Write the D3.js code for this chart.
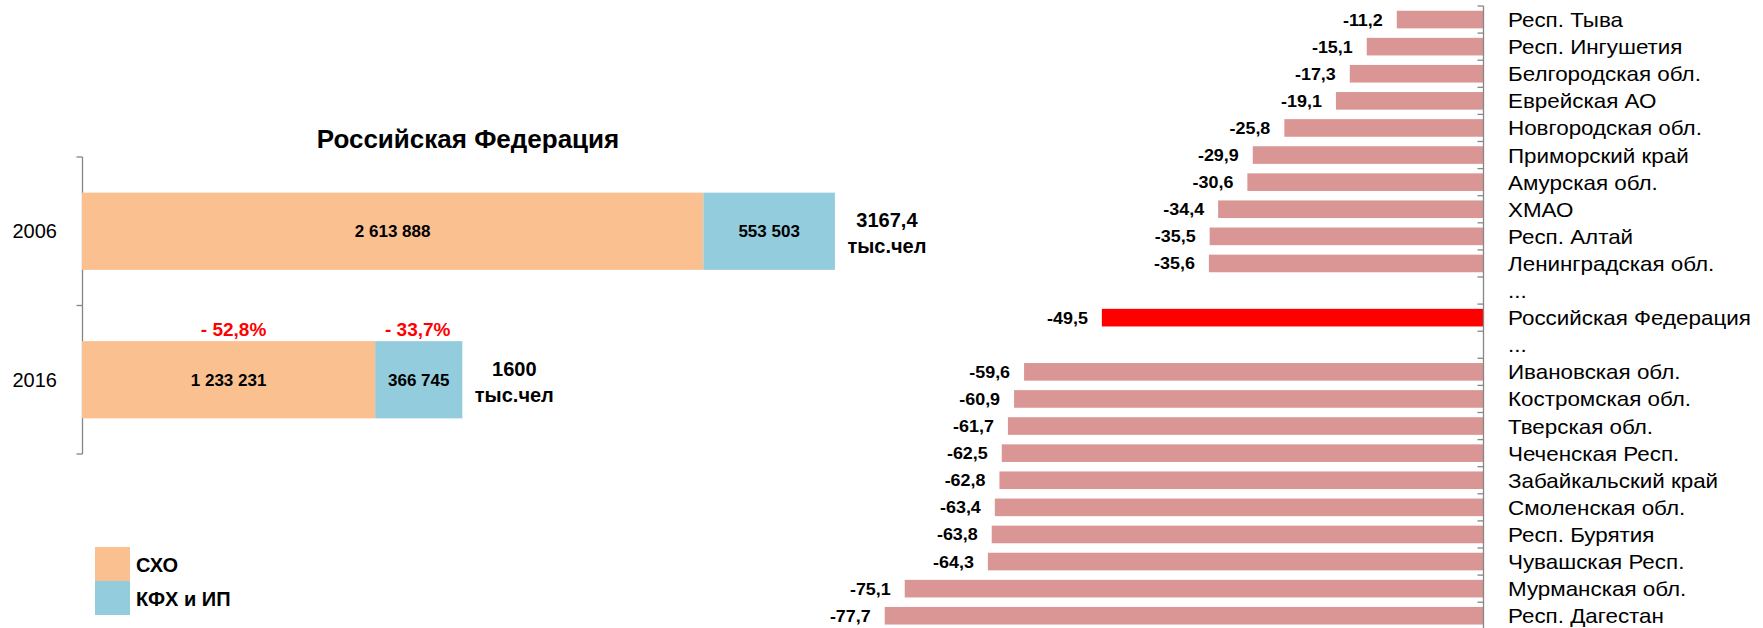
<!DOCTYPE html>
<html>
<head>
<meta charset="utf-8">
<script src="https://cdn.jsdelivr.net/npm/d3@7"></script>
<style>
  body { margin: 0; background: #fff; }
  svg { display: block; }
  text { font-family: "Liberation Sans", Arial, sans-serif; fill: #000; }
</style>
</head>
<body>
<svg id="chart" width="1763" height="628"></svg>
<script>
// ---- Employment in agriculture, Russian Federation (persons) ----
const years = ["2006", "2016"];
const sxoValues = [2613888, 1233231];      // СХО
const kfhValues = [553503, 366745];        // КФХ и ИП
const totalLabels = ["3167,4", "1600"];
const sxoChange = ["", "- 52,8%"];
const kfhChange = ["", "- 33,7%"];
const seriesNames = ["СХО", "КФХ и ИП"];
const chartTitle = "Российская Федерация";

// ---- Change by region, 2016 vs 2006 (%) ----
const regions = [
  "Респ. Тыва", "Респ. Ингушетия", "Белгородская обл.", "Еврейская АО",
  "Новгородская обл.", "Приморский край", "Амурская обл.", "ХМАО",
  "Респ. Алтай", "Ленинградская обл.", "...", "Российская Федерация", "...",
  "Ивановская обл.", "Костромская обл.", "Тверская обл.", "Чеченская Респ.",
  "Забайкальский край", "Смоленская обл.", "Респ. Бурятия", "Чувашская Респ.",
  "Мурманская обл.", "Респ. Дагестан"
];
const regionChange = [
  -11.2, -15.1, -17.3, -19.1, -25.8, -29.9, -30.6, -34.4, -35.5, -35.6,
  null, -49.5, null,
  -59.6, -60.9, -61.7, -62.5, -62.8, -63.4, -63.8, -64.3, -75.1, -77.7
];
const highlightRegion = "Российская Федерация";

const colors = { sxo: "#FAC090", kfh: "#93CDDD", region: "#D99694", total: "#FF0000", axis: "#868686", change: "#FF0000" };

const ru = d3.formatLocale({ decimal: ",", thousands: " ", grouping: [3], currency: ["", ""], minus: "-" });
const fmtInt = ru.format(",d");
const fmtPct = ru.format(".1f");

const svg = d3.select("#chart");

// ================= Left: stacked bars =================
const xL = d3.scaleLinear().domain([0, 3500000]).range([82, 914]);
const yL = d3.scaleBand().domain(years).range([157, 454]).paddingInner(0.48).paddingOuter(0.24);

const left = svg.append("g");

left.append("text")
  .attr("x", 468).attr("y", 148)
  .attr("text-anchor", "middle")
  .style("font-size", "26px").style("font-weight", "bold")
  .text(chartTitle);

// category axis
const axisX = xL(0) + 0.5;
left.append("line")
  .attr("x1", axisX).attr("x2", axisX)
  .attr("y1", yL.range()[0]).attr("y2", yL.range()[1])
  .attr("stroke", colors.axis).attr("stroke-width", 1.3);
const leftTicks = [yL.range()[0], (yL.range()[0] + yL.range()[1]) / 2, yL.range()[1]];
left.selectAll("line.tick").data(leftTicks).join("line")
  .attr("class", "tick")
  .attr("x1", axisX - 6).attr("x2", axisX)
  .attr("y1", d => d).attr("y2", d => d)
  .attr("stroke", colors.axis).attr("stroke-width", 1.3);
left.selectAll("text.year").data(years).join("text")
  .attr("class", "year")
  .attr("x", 57).attr("y", d => yL(d) + yL.bandwidth() / 2 + 7)
  .attr("text-anchor", "end")
  .style("font-size", "20px")
  .text(d => d);

const rowsL = years.map((y, i) => ({ year: y, sxo: sxoValues[i], kfh: kfhValues[i], total: totalLabels[i], cs: sxoChange[i], ck: kfhChange[i] }));

const rowG = left.selectAll("g.row").data(rowsL).join("g").attr("class", "row");

rowG.append("rect")
  .attr("x", d => xL(0)).attr("y", d => yL(d.year))
  .attr("width", d => xL(d.sxo) - xL(0)).attr("height", yL.bandwidth())
  .attr("fill", colors.sxo);
rowG.append("rect")
  .attr("x", d => xL(d.sxo)).attr("y", d => yL(d.year))
  .attr("width", d => xL(d.sxo + d.kfh) - xL(d.sxo)).attr("height", yL.bandwidth())
  .attr("fill", colors.kfh);

rowG.append("text")
  .attr("x", d => (xL(0) + xL(d.sxo)) / 2).attr("y", d => yL(d.year) + yL.bandwidth() / 2 + 6)
  .attr("text-anchor", "middle").style("font-size", "17px").style("font-weight", "bold")
  .text(d => fmtInt(d.sxo));
rowG.append("text")
  .attr("x", d => (xL(d.sxo) + xL(d.sxo + d.kfh)) / 2).attr("y", d => yL(d.year) + yL.bandwidth() / 2 + 6)
  .attr("text-anchor", "middle").style("font-size", "17px").style("font-weight", "bold")
  .text(d => fmtInt(d.kfh));

// totals to the right of each bar
rowG.append("text")
  .attr("x", d => xL(d.sxo + d.kfh) + 52).attr("y", d => yL(d.year) + yL.bandwidth() / 2 - 4)
  .attr("text-anchor", "middle").style("font-size", "20px").style("font-weight", "bold")
  .text(d => d.total);
rowG.append("text")
  .attr("x", d => xL(d.sxo + d.kfh) + 52).attr("y", d => yL(d.year) + yL.bandwidth() / 2 + 22)
  .attr("text-anchor", "middle").style("font-size", "20px").style("font-weight", "bold")
  .text("тыс.чел");

// change percentages above the 2016 segments
rowG.append("text")
  .attr("x", d => (xL(0) + xL(d.sxo)) / 2 + 5).attr("y", d => yL(d.year) - 5)
  .attr("text-anchor", "middle").style("font-size", "19px").style("font-weight", "bold")
  .style("fill", colors.change)
  .text(d => d.cs);
rowG.append("text")
  .attr("x", d => (xL(d.sxo) + xL(d.sxo + d.kfh)) / 2 - 1).attr("y", d => yL(d.year) - 5)
  .attr("text-anchor", "middle").style("font-size", "19px").style("font-weight", "bold")
  .style("fill", colors.change)
  .text(d => d.ck);

// legend
const legend = svg.append("g").attr("transform", "translate(95,547)");
const legendColors = [colors.sxo, colors.kfh];
const li = legend.selectAll("g").data(seriesNames).join("g")
  .attr("transform", (d, i) => `translate(0,${i * 34})`);
li.append("rect").attr("width", 35).attr("height", 34).attr("fill", (d, i) => legendColors[i]);
li.append("text").attr("x", 41).attr("y", 25)
  .style("font-size", "20px").style("font-weight", "bold")
  .text(d => d);

// ================= Right: regional change =================
const xR = d3.scaleLinear().domain([-80, 0]).range([867, 1483]);
const yR = d3.scaleBand().domain(d3.range(regions.length)).range([6, 629.3]).paddingInner(0.35).paddingOuter(0.175);
const stretch = 1.12;

const right = svg.append("g");
const zeroX = xR(0) + 0.5;

const rowsR = regions.map((r, i) => ({ i, name: r, v: regionChange[i] }));

right.selectAll("rect.bar").data(rowsR.filter(d => d.v !== null)).join("rect")
  .attr("class", "bar")
  .attr("x", d => xR(d.v)).attr("y", d => yR(d.i))
  .attr("width", d => xR(0) - xR(d.v)).attr("height", yR.bandwidth())
  .attr("fill", d => d.name === highlightRegion ? colors.total : colors.region);

right.selectAll("text.val").data(rowsR.filter(d => d.v !== null)).join("text")
  .attr("class", "val")
  .attr("transform", d => `translate(${xR(d.v) - 14},${yR(d.i) + yR.bandwidth() / 2 + 6}) scale(${stretch},1)`)
  .attr("text-anchor", "end")
  .style("font-size", "16px").style("font-weight", "bold")
  .text(d => fmtPct(d.v));

// axis line with boundary ticks
right.append("line")
  .attr("x1", zeroX).attr("x2", zeroX)
  .attr("y1", yR.range()[0]).attr("y2", 628)
  .attr("stroke", colors.axis).attr("stroke-width", 1.3);
const boundaries = d3.range(regions.length + 1).map(k => yR.range()[0] + k * yR.step());
right.selectAll("line.tick").data(boundaries).join("line")
  .attr("class", "tick")
  .attr("x1", zeroX - 6).attr("x2", zeroX)
  .attr("y1", d => d).attr("y2", d => d)
  .attr("stroke", colors.axis).attr("stroke-width", 1.3);

right.selectAll("text.cat").data(rowsR).join("text")
  .attr("class", "cat")
  .attr("transform", d => `translate(1508,${yR(d.i) + yR.bandwidth() / 2 + 7.5}) scale(${stretch},1)`)
  .style("font-size", "20px")
  .text(d => d.name);
</script>
</body>
</html>
